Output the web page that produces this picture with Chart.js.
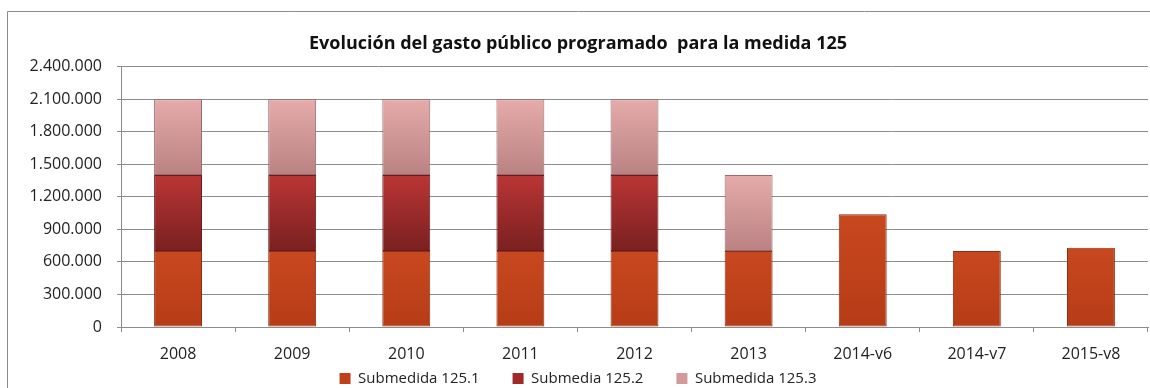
<!DOCTYPE html>
<html>
<head>
<meta charset="utf-8">
<script src="https://cdn.jsdelivr.net/npm/chart.js@4/dist/chart.umd.min.js"></script>
<style>
  html, body { margin: 0; padding: 0; background: #fff; }
  #wrap { position: relative; width: 1150px; height: 388px; }
</style>
</head>
<body>
<div id="wrap"><canvas id="gasto" width="1150" height="388"></canvas></div>
<script>
const labels = ['2008', '2009', '2010', '2011', '2012', '2013', '2014-v6', '2014-v7', '2015-v8'];
const sub1251 = [700000, 700000, 700000, 700000, 700000, 700000, 1040000, 700000, 730000];
const sub1252 = [700000, 700000, 700000, 700000, 700000, 0, 0, 0, 0];
const sub1253 = [700000, 700000, 700000, 700000, 700000, 700000, 0, 0, 0];
const yTicks = [0, 300000, 600000, 900000, 1200000, 1500000, 1800000, 2100000, 2400000];

const series = [sub1251, sub1252, sub1253];

const fmt = (v) => String(v).replace(/\B(?=(\d{3})+(?!\d))/g, '.');

// vertical gradient per stacked segment, Excel-ish bevel look
const gradFill = (top, bottom) => (c) => {
    const chart = c.chart;
    if (!chart.chartArea || c.type !== 'data') return bottom;
    const y = chart.scales.y;
    let base = 0;
    for (let i = 0; i < c.datasetIndex; i++) base += series[i][c.dataIndex];
    const v = series[c.datasetIndex][c.dataIndex];
    const y0 = y.getPixelForValue(base + v);
    const y1 = y.getPixelForValue(base);
    if (!isFinite(y0) || y1 - y0 < 1) return bottom;
    const g = chart.ctx.createLinearGradient(0, y0, 0, y1);
    g.addColorStop(0, top);
    g.addColorStop(1, bottom);
    return g;
};

const outerBorder = {
    id: 'outerBorder',
    beforeDraw(chart) {
        const ctx = chart.ctx;
        ctx.save();
        ctx.strokeStyle = '#8c8c8c';
        ctx.lineWidth = 1;
        ctx.beginPath();
        ctx.moveTo(7.5, 388);
        ctx.lineTo(7.5, 11.5);
        ctx.lineTo(1150, 11.5);
        ctx.stroke();
        ctx.restore();
    }
};

// legend padding doubles as the gap between items; keep the wide gap
// but pull the row back up so it sits just under the x labels
const LEGEND_GAP = 33;
const legendShift = {
    id: 'legendShift',
    afterLayout(chart) {
        const lg = chart.legend;
        if (!lg) return;
        lg.top -= LEGEND_GAP + 5;
    }
};

const ctx = document.getElementById('gasto').getContext('2d');
new Chart(ctx, {
    type: 'bar',
    data: {
        labels: labels,
        datasets: [
            {
                label: 'Submedida 125.1',
                data: sub1251,
                backgroundColor: gradFill('#c8481f', '#b63c17'),
                borderColor: '#8e2e12',
                borderWidth: 1,
                borderSkipped: false,
            },
            {
                label: 'Submedia 125.2',
                data: sub1252,
                backgroundColor: gradFill('#bb3535', '#7a2020'),
                borderColor: '#6a1c1c',
                borderWidth: 1,
                borderSkipped: false,
            },
            {
                label: 'Submedida 125.3',
                data: sub1253,
                backgroundColor: gradFill('#e6abab', '#b98282'),
                borderColor: '#9a6a6a',
                borderWidth: 1,
                borderSkipped: false,
            },
        ],
    },
    options: {
        responsive: false,
        animation: false,
        categoryPercentage: 1,
        barPercentage: 0.42,
        layout: { padding: { top: 33, left: 8, right: 2, bottom: 0 } },
        plugins: {
            title: {
                display: true,
                text: 'Evolución del gasto público programado  para la medida 125',
                color: '#111',
                font: { family: 'Open Sans', size: 18, weight: 'bold' },
                padding: { top: 0, bottom: 12 },
            },
            legend: {
                position: 'bottom',
                maxHeight: 12,
                labels: {
                    color: '#222',
                    font: { family: 'Open Sans', size: 15 },
                    boxWidth: 11,
                    boxHeight: 11,
                    padding: LEGEND_GAP,
                    generateLabels: (chart) => {
                        const cols = ['#c0401a', '#a02a2a', '#d49a9a'];
                        return chart.data.datasets.map((ds, i) => ({
                            text: ds.label,
                            fillStyle: cols[i],
                            strokeStyle: cols[i],
                            lineWidth: 0,
                            datasetIndex: i,
                            fontColor: '#222',
                        }));
                    },
                },
            },
            tooltip: { enabled: false },
        },
        scales: {
            x: {
                stacked: true,
                border: { color: '#8c8c8c' },
                grid: { drawOnChartArea: false, color: '#8c8c8c', tickLength: 5, offset: true },
                ticks: { color: '#222', font: { family: 'Open Sans', size: 16, lineHeight: 1.5 }, padding: 10 },
            },
            y: {
                stacked: true,
                min: 0,
                max: 2400000,
                afterBuildTicks: (scale) => {
                    scale.ticks = yTicks.map((v) => ({ value: v }));
                },
                afterFit: (scale) => { scale.width = 113; },
                border: { color: '#8c8c8c' },
                grid: { color: '#8c8c8c', tickLength: 4 },
                ticks: {
                    color: '#222',
                    font: { family: 'Open Sans', size: 16 },
                    padding: 15,
                    callback: (v) => fmt(v),
                },
            },
        },
    },
    plugins: [outerBorder, legendShift],
});
</script>
</body>
</html>
